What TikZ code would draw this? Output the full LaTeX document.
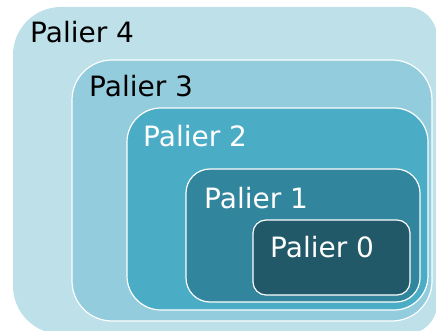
\documentclass[tikz,border=0pt]{standalone}
\usepackage{fontspec}
\setmainfont{DejaVu Sans}
\usepackage{xcolor}
\definecolor{palier-four}{HTML}{BDE0E9}
\definecolor{palier-three}{HTML}{93CDDD}
\definecolor{palier-two}{HTML}{4BACC6}
\definecolor{palier-one}{HTML}{31859C}
\definecolor{palier-zero}{HTML}{215968}
\usepackage{tikz}

\begin{document}
\begin{tikzpicture}[x=1pt, y=-1pt,
    level/.style={draw=white, line width=1.2pt},
    label/.style={anchor=base west, inner sep=0pt, font=\fontsize{28}{33}\selectfont}]

    % Frame
    \useasboundingbox (0, 0) rectangle (436, 331);
    \begin{scope}
    \clip (0, 0) rectangle (436, 331);

    % Palier 4
    \fill[palier-four] (200, 334) [rounded corners=48pt] -- (13, 334) -- (13, 7) -- (240, 7)
        [rounded corners=30pt] -- (437, 7) -- (437, 334) -- (300, 334) [sharp corners] -- cycle;

    % Palier 3
    \filldraw[level, fill=palier-three, rounded corners=40pt] (72, 60) rectangle (432, 321);

    % Palier 2
    \filldraw[level, fill=palier-two, rounded corners=34pt] (127, 108) rectangle (428, 310);

    % Palier 1
    \filldraw[level, fill=palier-one, rounded corners=24pt] (186, 169) rectangle (420, 302);

    % Palier 0
    \filldraw[level, fill=palier-zero, rounded corners=13pt] (253, 220) rectangle (410, 295);
    \end{scope}

    % Labels
    \node[label, text=black] (four) at (30, 43) {Palier 4};
    \node[label, text=black] (three) at (89, 97) {Palier 3};
    \node[label, text=white] (two) at (143, 147) {Palier 2};
    \node[label, text=white] (one) at (204, 208) {Palier 1};
    \node[label, text=white] (zero) at (270, 257) {Palier 0};

\end{tikzpicture}
\end{document}
